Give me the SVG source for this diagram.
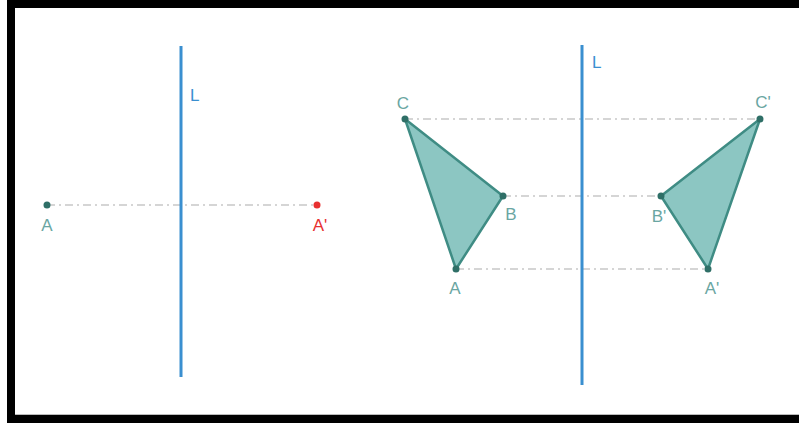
<svg xmlns="http://www.w3.org/2000/svg" width="799" height="423" viewBox="0 0 799 423">
<style>
.frame{fill:none;stroke:#000;stroke-width:8}
.axis{stroke:#3a8fd0;stroke-width:3}
.guide{stroke:#c8c8c8;stroke-width:1.5;stroke-dasharray:8 4 2 4;fill:none}
.tri{fill:#8cc6c2;stroke:#3f8c84;stroke-width:2.5;stroke-linejoin:round}
.pt{fill:#2f6f67}
.lbl{font-family:"Liberation Sans",Arial,sans-serif;font-size:17px;fill:#6aa6a2;text-anchor:middle}
.axl{font-family:"Liberation Sans",Arial,sans-serif;font-size:17px;fill:#3a8fd0}
.red{fill:#e83030}
</style>
<rect width="799" height="423" fill="#fff"/>
<path class="frame" d="M803,4 H11 V419 H803"/>
<line x1="15" y1="414.5" x2="799" y2="414.5" stroke="#bbb" stroke-width="1"/>
<g id="connectors">
<line class="guide" x1="47" y1="205" x2="317" y2="205"/>
<line class="guide" x1="405" y1="119" x2="760" y2="119"/>
<line class="guide" x1="503" y1="196" x2="661" y2="196"/>
<line class="guide" x1="456" y1="269" x2="708" y2="269"/>
</g>
<g id="line-L1"><line class="axis" x1="181" y1="46" x2="181" y2="377"/><text class="axl" x="190" y="101">L</text></g>
<g id="line-L2"><line class="axis" x1="582" y1="45" x2="582" y2="385"/><text class="axl" x="592" y="68">L</text></g>
<g id="point-A"><circle class="pt" cx="47" cy="205" r="3.5"/><text class="lbl" x="47" y="231">A</text></g>
<g id="point-A1"><circle class="red" cx="317" cy="205" r="3.5"/><text class="lbl red" x="320" y="231">A'</text></g>
<g id="triangle-ABC">
<polygon class="tri" points="405,119 503,196 456,269"/>
<circle class="pt" cx="405" cy="119" r="3.5"/><circle class="pt" cx="503" cy="196" r="3.5"/><circle class="pt" cx="456" cy="269" r="3.5"/>
<text class="lbl" x="403" y="109">C</text><text class="lbl" x="511" y="220">B</text><text class="lbl" x="455" y="294">A</text>
</g>
<g id="triangle-A1B1C1">
<polygon class="tri" points="760,119 661,196 708,269"/>
<circle class="pt" cx="760" cy="119" r="3.5"/><circle class="pt" cx="661" cy="196" r="3.5"/><circle class="pt" cx="708" cy="269" r="3.5"/>
<text class="lbl" x="763" y="108">C'</text><text class="lbl" x="659" y="222">B'</text><text class="lbl" x="712" y="294">A'</text>
</g>
</svg>
